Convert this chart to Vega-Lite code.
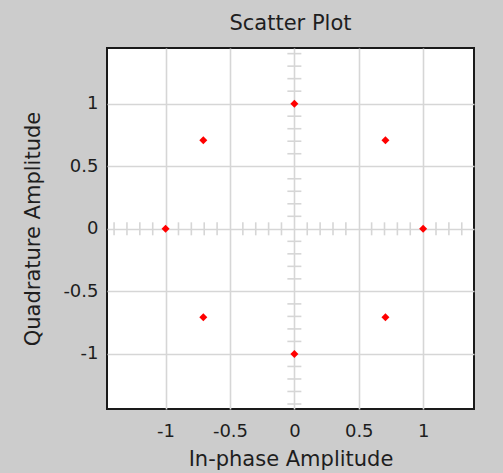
{
  "$schema": "https://vega.github.io/schema/vega-lite/v6.json",
  "width": 367,
  "height": 361,
  "autosize": {"type": "none"},
  "padding": {"left": 107, "top": 48, "right": 29, "bottom": 64},
  "background": "#cccccc",
  "title": {"text": "Scatter Plot", "font": "DejaVu Sans", "fontSize": 21, "fontWeight": "normal", "color": "#1e1e1e", "offset": 14, "anchor": "middle"},
  "config": {
    "view": {"fill": "white", "stroke": "#1a1a1a", "strokeWidth": 2},
    "axis": {
      "grid": true, "gridColor": "#d6d6d6", "gridWidth": 1.6,
      "ticks": false, "tickSize": 0, "domain": false,
      "labelFont": "DejaVu Sans", "labelFontSize": 18, "labelColor": "#1e1e1e",
      "labelExpr": "'' + datum.value",
      "titleFont": "DejaVu Sans", "titleFontSize": 21, "titleFontWeight": "normal", "titleColor": "#1e1e1e"
    },
    "axisX": {"labelPadding": 13, "titlePadding": 8},
    "axisY": {"labelPadding": 9, "titlePadding": 19}
  },
  "datasets": {
    "points": [
      {"i": 1, "q": 0},
      {"i": 0.7071, "q": 0.7071},
      {"i": 0, "q": 1},
      {"i": -0.7071, "q": 0.7071},
      {"i": -1, "q": 0},
      {"i": -0.7071, "q": -0.7071},
      {"i": 0, "q": -1},
      {"i": 0.7071, "q": -0.7071}
    ],
    "xminor": [
      {"v": -1.4}, {"v": -1.3}, {"v": -1.2}, {"v": -1.1}, {"v": -0.9}, {"v": -0.8}, {"v": -0.7}, {"v": -0.6},
      {"v": -0.4}, {"v": -0.3}, {"v": -0.2}, {"v": -0.1}, {"v": 0.1}, {"v": 0.2}, {"v": 0.3}, {"v": 0.4},
      {"v": 0.6}, {"v": 0.7}, {"v": 0.8}, {"v": 0.9}, {"v": 1.1}, {"v": 1.2}, {"v": 1.3}
    ],
    "yminor": [
      {"v": -1.4}, {"v": -1.3}, {"v": -1.2}, {"v": -1.1}, {"v": -0.9}, {"v": -0.8}, {"v": -0.7}, {"v": -0.6},
      {"v": -0.4}, {"v": -0.3}, {"v": -0.2}, {"v": -0.1}, {"v": 0.1}, {"v": 0.2}, {"v": 0.3}, {"v": 0.4},
      {"v": 0.6}, {"v": 0.7}, {"v": 0.8}, {"v": 0.9}, {"v": 1.1}, {"v": 1.2}, {"v": 1.3}, {"v": 1.4}
    ]
  },
  "layer": [
    {
      "data": {"name": "xminor"},
      "mark": {"type": "tick", "orient": "vertical", "color": "#d6d6d6", "size": 13, "thickness": 1.6, "opacity": 1},
      "encoding": {
        "x": {"field": "v", "type": "quantitative", "scale": {"domain": [-1.455, 1.395], "nice": false, "zero": false}, "axis": {"values": [-1, -0.5, 0, 0.5, 1], "title": "In-phase Amplitude"}},
        "y": {"datum": 0, "type": "quantitative", "scale": {"domain": [-1.44, 1.445], "nice": false, "zero": false}, "axis": {"values": [-1, -0.5, 0, 0.5, 1], "title": "Quadrature Amplitude"}}
      }
    },
    {
      "data": {"name": "yminor"},
      "mark": {"type": "tick", "orient": "horizontal", "color": "#d6d6d6", "size": 14, "thickness": 1.6, "opacity": 1},
      "encoding": {
        "y": {"field": "v", "type": "quantitative", "scale": {"domain": [-1.44, 1.445], "nice": false, "zero": false}, "axis": {"values": [-1, -0.5, 0, 0.5, 1], "title": "Quadrature Amplitude"}},
        "x": {"datum": 0, "type": "quantitative", "scale": {"domain": [-1.455, 1.395], "nice": false, "zero": false}, "axis": {"values": [-1, -0.5, 0, 0.5, 1], "title": "In-phase Amplitude"}}
      }
    },
    {
      "data": {"name": "points"},
      "mark": {"type": "point", "shape": "diamond", "filled": true, "color": "#ff0000", "size": 64, "opacity": 1},
      "encoding": {
        "x": {"field": "i", "type": "quantitative", "scale": {"domain": [-1.455, 1.395], "nice": false, "zero": false}, "axis": {"values": [-1, -0.5, 0, 0.5, 1], "title": "In-phase Amplitude"}},
        "y": {"field": "q", "type": "quantitative", "scale": {"domain": [-1.44, 1.445], "nice": false, "zero": false}, "axis": {"values": [-1, -0.5, 0, 0.5, 1], "title": "Quadrature Amplitude"}}
      }
    }
  ]
}
